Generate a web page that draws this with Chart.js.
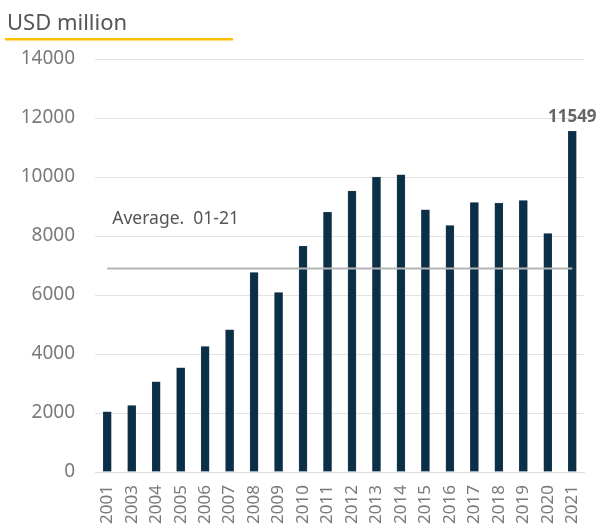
<!DOCTYPE html>
<html>
<head>
<meta charset="utf-8">
<script src="https://cdn.jsdelivr.net/npm/chart.js@4/dist/chart.umd.min.js"></script>
<style>
  html, body { margin: 0; padding: 0; background: #fff; }
  #wrap { position: relative; width: 606px; height: 530px; }
</style>
</head>
<body>
<div id="wrap"><canvas id="fdiChart" width="606" height="530"></canvas></div>
<script>
// Inversión anual (USD millones)
const years = ["2001", "2003", "2004", "2005", "2006", "2007", "2008", "2009", "2010", "2011",
  "2012", "2013", "2014", "2015", "2016", "2017", "2018", "2019", "2020", "2021"];
const investment = [2040, 2250, 3060, 3530, 4250, 4820, 6760, 6080, 7650, 8800,
  9520, 10000, 10070, 8890, 8350, 9130, 9120, 9200, 8080, 11549];
const averageValue = 6900;
const averageLabel = "Average.  01-21";
const unitTitle = "USD million";
const yMin = 0;
const yMax = 14000;
const yStep = 2000;

const FONT = "'Noto Sans', sans-serif";

// Título con subrayado naranja
const titlePlugin = {
  id: "titleUnderline",
  afterDraw(chart) {
    const ctx = chart.ctx;
    ctx.save();
    ctx.fillStyle = "#555555";
    ctx.font = "22px " + FONT;
    ctx.textAlign = "left";
    ctx.textBaseline = "alphabetic";
    ctx.fillText(unitTitle, 7, 30);
    ctx.fillStyle = "#ffc000";
    ctx.fillRect(5, 38, 228, 2.5);
    ctx.restore();
  }
};

// Etiqueta del promedio y valor del último año
const labelsPlugin = {
  id: "extraLabels",
  afterDatasetsDraw(chart) {
    const ctx = chart.ctx;
    const bars = chart.getDatasetMeta(0).data;
    const y = chart.scales.y;
    ctx.save();

    ctx.fillStyle = "#555555";
    ctx.font = "17.5px " + FONT;
    ctx.textAlign = "left";
    ctx.textBaseline = "alphabetic";
    ctx.fillText(averageLabel, bars[0].x + 5, y.getPixelForValue(averageValue) - 44);

    const last = investment.length - 1;
    ctx.fillStyle = "#666666";
    ctx.font = "bold 17px " + FONT;
    ctx.textAlign = "center";
    ctx.fillText(String(investment[last]), bars[last].x, y.getPixelForValue(investment[last]) - 9);

    ctx.restore();
  }
};

const ctx = document.getElementById("fdiChart").getContext("2d");
new Chart(ctx, {
  type: "bar",
  data: {
    labels: years,
    datasets: [
      {
        type: "bar",
        data: investment,
        backgroundColor: "#0b2f47",
        borderColor: "#2c4a5e",
        borderWidth: 0.5,
        barThickness: 8,
        order: 1
      },
      {
        type: "line",
        data: years.map(() => averageValue),
        borderColor: "#b5b5b5",
        borderWidth: 2,
        pointRadius: 0,
        fill: false,
        order: 0
      }
    ]
  },
  options: {
    responsive: false,
    animation: false,
    layout: { padding: { top: 59, right: 13, left: 0, bottom: 0 } },
    plugins: {
      legend: { display: false },
      tooltip: { enabled: false }
    },
    scales: {
      x: {
        grid: { display: false, drawTicks: false },
        border: { display: true, color: "#dddddd", width: 1 },
        ticks: {
          minRotation: 90,
          maxRotation: 90,
          padding: 13,
          color: "#7a7a7a",
          font: { family: FONT, size: 17 }
        },
        afterFit(scale) { scale.height = 58; }
      },
      y: {
        min: yMin,
        max: yMax,
        grid: { color: "#e3e3e3", lineWidth: 1, drawTicks: false },
        border: { display: false },
        ticks: {
          stepSize: yStep,
          padding: 20,
          color: "#7a7a7a",
          font: { family: FONT, size: 19 },
          callback: (value) => String(value)
        },
        afterFit(scale) { scale.width = 95; }
      }
    }
  },
  plugins: [titlePlugin, labelsPlugin]
});
</script>
</body>
</html>
